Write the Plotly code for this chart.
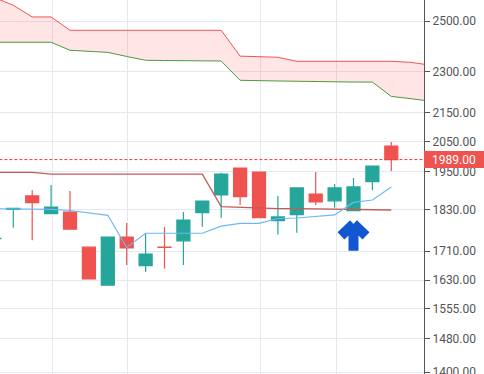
import numpy as np
import plotly.graph_objects as go

# ---- data ----
candle_idx = list(range(-1, 21))
opens  = [1745, 1832, 1873, 1819, 1824, 1721, 1616, 1750, 1669, 1721, 1739, 1822, 1876, 1961.5, 1948.6, 1798, 1816, 1879, 1858, 1828, 1917.6, 2034]
highs  = [1747, 1836, 1891, 1907, 1888, 1721, 1750, 1791, 1760, 1779, 1824, 1857, 1946, 1961.5, 1949, 1873, 1898, 1949, 1910, 1929, 1968, 2048]
lows   = [1744, 1777, 1741, 1818, 1773, 1633, 1616, 1671, 1652, 1661, 1671, 1780, 1807, 1845, 1807, 1757, 1762.5, 1845, 1837, 1828, 1891, 1952]
closes = [1746.5, 1835, 1852, 1839, 1773, 1633, 1750, 1719, 1701.5, 1720, 1800, 1857, 1942, 1870.5, 1807, 1809, 1898, 1855, 1898, 1901, 1968, 1989]

conversion_line = [1834, 1834, 1833, 1832, 1828.5, 1821, 1814, 1720, 1761, 1761, 1761, 1761, 1782, 1790, 1790, 1804.5, 1806, 1810, 1815, 1853, 1860.5, 1901]
base_line = [1947.6, 1947.6, 1947.6, 1942, 1942, 1942, 1942, 1942, 1942, 1942, 1942, 1942, 1840, 1837.5, 1835, 1834, 1834, 1833.5, 1833, 1832, 1831, 1830]

cloud_idx = list(range(-1, 23))
span_upper = [2600, 2567, 2518, 2518, 2463, 2463, 2463, 2463, 2463, 2463, 2463, 2463, 2463, 2360, 2358, 2355.6, 2340, 2340, 2340, 2340, 2340, 2340, 2336, 2326]
span_lower = [2414.7, 2414.7, 2414.7, 2414.7, 2383, 2379.4, 2374.7, 2358.7, 2343.9, 2343, 2342.5, 2342, 2341, 2267.6, 2265, 2265, 2264, 2262.5, 2261.2, 2261, 2261, 2208, 2200, 2191]

tick_values = [2500, 2300, 2150, 2050, 1950, 1830, 1710, 1630, 1555, 1480, 1400]
tick_labels = [f"{v:.2f}" for v in tick_values]
vgrid_positions = [2.06, 6.03, 13.07, 17.11]
signal_index = 18
last_price = closes[-1]

UP = "#26a69a"
DOWN = "#ef5350"
GRID = "#e2e9f0"
AXIS = "#555555"

fig = go.Figure()

# cloud
fig.add_trace(go.Scatter(x=cloud_idx, y=span_upper, mode="lines",
                         line=dict(color="#f05454", width=1), hoverinfo="skip", showlegend=False))
fig.add_trace(go.Scatter(x=cloud_idx, y=span_lower, mode="lines", fill="tonexty",
                         fillcolor="rgba(255,82,82,0.15)",
                         line=dict(color="#4e9a3f", width=1), hoverinfo="skip", showlegend=False))

# base & conversion lines
fig.add_trace(go.Scatter(x=candle_idx, y=base_line, mode="lines",
                         line=dict(color="#c25b5b", width=1.3), hoverinfo="skip", showlegend=False))
fig.add_trace(go.Scatter(x=candle_idx, y=conversion_line, mode="lines",
                         line=dict(color="#6cb8f6", width=1.2), hoverinfo="skip", showlegend=False))

# last price line
fig.add_trace(go.Scatter(x=[cloud_idx[0], cloud_idx[-1]], y=[last_price, last_price], mode="lines",
                         line=dict(color="#f23a3a", width=1, dash="3px,2px"),
                         hoverinfo="skip", showlegend=False))

# candles
fig.add_trace(go.Candlestick(
    x=candle_idx, open=opens, high=highs, low=lows, close=closes,
    increasing=dict(line=dict(color=UP, width=1.2), fillcolor=UP),
    decreasing=dict(line=dict(color=DOWN, width=1.2), fillcolor=DOWN),
    whiskerwidth=0, hoverinfo="skip", showlegend=False))

# signal arrow (pixel offsets relative to the signal candle's low)
ARROW = "#1257d0"
ax_x = signal_index
ax_y = lows[candle_idx.index(signal_index)]
arrow_common = dict(xref="x", yref="y", xsizemode="pixel", ysizemode="pixel",
                    xanchor=ax_x, yanchor=ax_y, layer="above")
fig.add_shape(type="path", path="M -12.5,-25.3 L 0,-13.3 M 12.5,-25.3 L 0,-13.3 M 0,-13.3 L 0,-40",
              line=dict(color=ARROW, width=10), **arrow_common)
for cx, cy in [(-12.5, -25.3), (0, -13.3), (12.5, -25.3)]:
    fig.add_shape(type="circle", x0=cx - 5, x1=cx + 5, y0=cy - 5, y1=cy + 5,
                  fillcolor=ARROW, line=dict(width=0), **arrow_common)

# last price label
fig.add_annotation(xref="paper", x=1.0, xanchor="left", yref="y", y=np.log10(last_price),
                   yanchor="middle", text=f"{last_price:.2f}", showarrow=False,
                   font=dict(family="Roboto", size=12, color="white"),
                   bgcolor=DOWN, width=60, height=17, borderpad=0, borderwidth=0, align="center")

fig.update_layout(
    width=484, height=374,
    margin=dict(l=0, r=60, t=0, b=0, autoexpand=False),
    paper_bgcolor="white", plot_bgcolor="white",
    boxgap=0.31, boxgroupgap=0,
    font=dict(family="Roboto", size=12, color=AXIS),
    xaxis=dict(range=[-0.704, 21.73], tickvals=vgrid_positions, showticklabels=False,
               ticks="", showgrid=True, gridcolor=GRID, gridwidth=1, zeroline=False,
               showline=False, rangeslider=dict(visible=False), fixedrange=True,
               automargin=False),
    yaxis=dict(type="log", side="right", range=[np.log10(1395.4), np.log10(2589.5)],
               tickvals=tick_values, ticktext=tick_labels, ticks="outside", ticklen=5,
               tickcolor=AXIS, showline=True, linecolor=AXIS, linewidth=1,
               showgrid=True, gridcolor=GRID, gridwidth=1, zeroline=False, automargin=False,
               ticklabeloverflow="allow", tickfont=dict(family="Roboto", size=12, color=AXIS)),
)

fig.write_html("out.html", config={"displayModeBar": False},
               post_script="document.body.style.margin='0px';document.body.style.overflow='hidden';")
